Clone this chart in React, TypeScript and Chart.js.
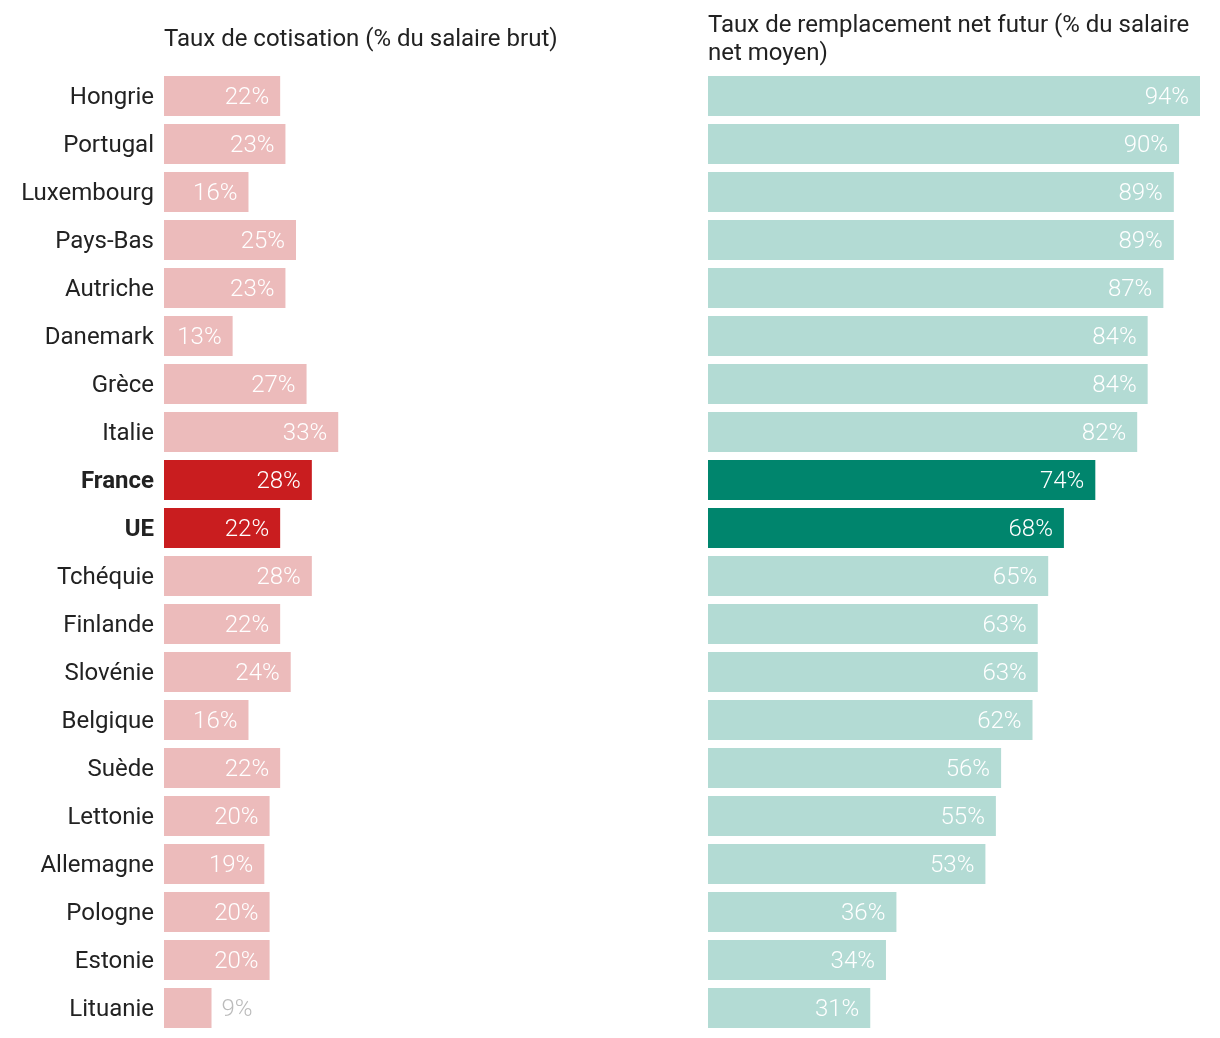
import React, { useEffect, useRef } from "react";
import { Chart, registerables } from "chart.js";

Chart.register(...registerables);

const countries = [
  "Hongrie", "Portugal", "Luxembourg", "Pays-Bas", "Autriche", "Danemark", "Grèce", "Italie",
  "France", "UE", "Tchéquie", "Finlande", "Slovénie", "Belgique", "Suède", "Lettonie",
  "Allemagne", "Pologne", "Estonie", "Lituanie",
];
const cotisation = [22, 23, 16, 25, 23, 13, 27, 33, 28, 22, 28, 22, 24, 16, 22, 20, 19, 20, 20, 9];
const remplacement = [94, 90, 89, 89, 87, 84, 84, 82, 74, 68, 65, 63, 63, 62, 56, 55, 53, 36, 34, 31];
const highlighted = ["France", "UE"];
const leftTitle = ["Taux de cotisation (% du salaire brut)"];
const rightTitle = ["Taux de remplacement net futur (% du salaire", "net moyen)"];

const FONT = "Roboto";
const TEXT = "#222222";

function makeLabelPlugin(id: string) {
  return {
    id,
    afterDatasetsDraw(chart: any) {
      const ctx = chart.ctx;
      const meta = chart.getDatasetMeta(0);
      const data = chart.data.datasets[0].data as number[];
      ctx.save();
      ctx.font = `300 24px ${FONT}`;
      ctx.textBaseline = "middle";
      meta.data.forEach((bar: any, i: number) => {
        const w = bar.x - bar.base;
        const txt = `${data[i]}%`;
        if (w > 60) {
          ctx.fillStyle = "#ffffff";
          ctx.textAlign = "right";
          ctx.fillText(txt, bar.x - 11, bar.y + 2);
        } else {
          ctx.fillStyle = "#bbbbbb";
          ctx.textAlign = "left";
          ctx.fillText(txt, bar.x + 10, bar.y + 2);
        }
      });
      ctx.restore();
    },
  };
}

function makeTitlePlugin(id: string, lines: string[], firstY: number) {
  return {
    id,
    afterDraw(chart: any) {
      const ctx = chart.ctx;
      ctx.save();
      ctx.font = `400 24px ${FONT}`;
      ctx.fillStyle = TEXT;
      ctx.textAlign = "left";
      ctx.textBaseline = "middle";
      lines.forEach((l, i) => ctx.fillText(l, chart.chartArea.left, firstY + i * 28));
      ctx.restore();
    },
  };
}

export default function App() {
  const leftRef = useRef<HTMLCanvasElement>(null);
  const rightRef = useRef<HTMLCanvasElement>(null);

  useEffect(() => {
    const leftColors = countries.map((c) => (highlighted.includes(c) ? "#c91d1f" : "#ecbbbb"));
    const rightColors = countries.map((c) => (highlighted.includes(c) ? "#00856d" : "#b3dbd4"));

    const left = new Chart(leftRef.current!, {
      type: "bar",
      data: {
        labels: countries,
        datasets: [{
          data: cotisation,
          backgroundColor: leftColors,
          categoryPercentage: 1,
          barPercentage: 40 / 48,
        }],
      },
      options: {
        indexAxis: "y",
        responsive: false,
        maintainAspectRatio: false,
        animation: false,
        layout: { padding: { left: 0, right: 8, top: 72, bottom: 6 } },
        plugins: { legend: { display: false }, tooltip: { enabled: false } },
        scales: {
          x: { display: false, min: 0, max: 100 },
          y: {
            afterFit: (s: any) => { s.width = 164; s.paddingTop = 0; s.paddingBottom = 0; },
            grid: { display: false, drawTicks: false },
            border: { display: false },
            ticks: {
              padding: 10,
              labelOffset: 2,
              color: TEXT,
              font: (c: any) => ({
                family: FONT,
                size: 24,
                weight: highlighted.includes(countries[c.index]) ? "bold" : "normal",
              }),
            },
          },
        },
      },
      plugins: [makeLabelPlugin("lblL"), makeTitlePlugin("ttlL", leftTitle, 40)],
    } as any);

    const right = new Chart(rightRef.current!, {
      type: "bar",
      data: {
        labels: countries,
        datasets: [{
          data: remplacement,
          backgroundColor: rightColors,
          categoryPercentage: 1,
          barPercentage: 40 / 48,
        }],
      },
      options: {
        indexAxis: "y",
        responsive: false,
        maintainAspectRatio: false,
        animation: false,
        layout: { padding: { left: 8, right: 20, top: 72, bottom: 6 } },
        plugins: { legend: { display: false }, tooltip: { enabled: false } },
        scales: {
          x: { display: false, min: 0, max: 94 },
          y: { display: false },
        },
      },
      plugins: [makeLabelPlugin("lblR"), makeTitlePlugin("ttlR", rightTitle, 26)],
    } as any);

    return () => {
      left.destroy();
      right.destroy();
    };
  }, []);

  return (
    <div style={{ position: "absolute", left: 0, top: 0, width: 1220, height: 1038, background: "#fff" }}>
      <canvas ref={leftRef} width={700} height={1038}
        style={{ position: "absolute", left: 0, top: 0, width: 700, height: 1038 }} />
      <canvas ref={rightRef} width={520} height={1038}
        style={{ position: "absolute", left: 700, top: 0, width: 520, height: 1038 }} />
    </div>
  );
}
